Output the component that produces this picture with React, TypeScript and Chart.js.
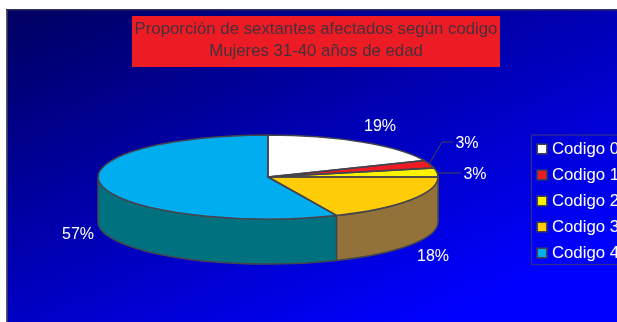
import React, { useEffect, useRef } from "react";
import { Chart, registerables } from "chart.js";

Chart.register(...registerables);

const categories = ["Codigo 0", "Codigo 1", "Codigo 2", "Codigo 3", "Codigo 4"];
const percentages = [18.6, 3, 3.4, 18.4, 56.6];
const topColors = ["#FFFFFF", "#ED1C24", "#FFF200", "#FFCC08", "#00AEEF"];
const wallColors = ["#B0B0B0", "#8A1015", "#8F8800", "#927239", "#00727F"];
const titleLines = ["Proporción de sextantes afectados según codigo", "Mujeres 31-40 años de edad"];

const FONT = "'Liberation Sans', Arial, sans-serif";
const OUTLINE = "#44444F";
const PIE = { cx: 268, cy: 177, rx: 170, ry: 42, depth: 45 };
const LABEL_SPOTS = [
  { x: 380, y: 126.5 },
  { x: 467, y: 143.5 },
  { x: 475, y: 174.5 },
  { x: 433, y: 256.5 },
  { x: 78, y: 234.5 },
];
const LEADERS = [
  null,
  [[429, 164], [442, 142], [453, 142]],
  [[437, 173], [461, 173]],
  null,
  null,
];

const pie3d = {
  id: "pie3d",
  afterLayout(chart: any) {
    const lg = chart.legend;
    const w = lg.right - lg.left;
    const h = lg.bottom - lg.top;
    lg.left = 531.3;
    lg.right = 531.3 + w;
    lg.top = 131.4;
    lg.bottom = 131.4 + h;
    const t = chart.titleBlock;
    t.top = 9;
    t.bottom = 9 + t.height;
  },
  beforeDraw(chart: any) {
    const { ctx, width, height } = chart;
    ctx.save();
    ctx.fillStyle = "#FFFFFF";
    ctx.fillRect(0, 0, width, height);
    const g = ctx.createLinearGradient(6, 9, 189, 428);
    g.addColorStop(0.04, "#000066");
    g.addColorStop(1, "#0000FF");
    ctx.fillStyle = g;
    ctx.fillRect(6, 9, width, height);
    ctx.lineWidth = 1.5;
    ctx.strokeStyle = "#5A5A60";
    ctx.beginPath();
    ctx.moveTo(6.75, height);
    ctx.lineTo(6.75, 9.75);
    ctx.stroke();
    ctx.strokeStyle = "#30305C";
    ctx.beginPath();
    ctx.moveTo(6.75, 9.75);
    ctx.lineTo(width, 9.75);
    ctx.stroke();
    ctx.fillStyle = "#ED1C24";
    ctx.fillRect(132, 16, 368, 51);
    ctx.strokeStyle = "#30308C";
    ctx.lineWidth = 1.2;
    ctx.strokeRect(531.5, 135, 120, 129.5);
    ctx.restore();
  },
  beforeDatasetsDraw(chart: any) {
    const { ctx } = chart;
    const arcs = chart.getDatasetMeta(0).data;
    const { cx, cy, rx, ry, depth } = PIE;
    ctx.save();
    ctx.strokeStyle = OUTLINE;
    ctx.lineWidth = 1.5;
    ctx.lineJoin = "round";
    arcs.forEach((arc: any, i: number) => {
      const a0 = Math.max(arc.startAngle, 0);
      const a1 = Math.min(arc.endAngle, Math.PI);
      if (a1 <= a0) return;
      ctx.beginPath();
      ctx.ellipse(cx, cy, rx, ry, 0, a0, a1);
      ctx.ellipse(cx, cy + depth, rx, ry, 0, a1, a0, true);
      ctx.closePath();
      ctx.fillStyle = wallColors[i];
      ctx.fill();
      ctx.stroke();
    });
    ctx.restore();
    const first = arcs[0];
    const r = first.outerRadius;
    ctx.save();
    ctx.translate(cx, cy);
    ctx.scale(rx / r, ry / r);
    ctx.translate(-first.x, -first.y);
  },
  afterDatasetsDraw(chart: any) {
    const { ctx } = chart;
    ctx.restore();
    const arcs = chart.getDatasetMeta(0).data;
    const { cx, cy, rx, ry } = PIE;
    ctx.save();
    ctx.strokeStyle = OUTLINE;
    ctx.lineWidth = 1.5;
    ctx.lineJoin = "round";
    arcs.forEach((arc: any) => {
      ctx.beginPath();
      ctx.moveTo(cx, cy);
      ctx.ellipse(cx, cy, rx, ry, 0, arc.startAngle, arc.endAngle);
      ctx.closePath();
      ctx.stroke();
    });
    ctx.lineWidth = 1;
    LEADERS.forEach((pts) => {
      if (!pts) return;
      ctx.beginPath();
      pts.forEach(([x, y], k) => (k ? ctx.lineTo(x, y) : ctx.moveTo(x, y)));
      ctx.stroke();
    });
    ctx.fillStyle = "#FFFFFF";
    ctx.font = `16px ${FONT}`;
    ctx.textAlign = "center";
    ctx.textBaseline = "middle";
    percentages.forEach((v, i) => {
      ctx.fillText(`${Math.round(v)}%`, LABEL_SPOTS[i].x, LABEL_SPOTS[i].y);
    });
    ctx.restore();
  },
};

export default function App() {
  const ref = useRef<HTMLCanvasElement>(null);
  useEffect(() => {
    document.body.style.margin = "0";
    document.body.style.overflow = "hidden";
    const chart = new Chart(ref.current as HTMLCanvasElement, {
      type: "pie",
      data: {
        labels: categories,
        datasets: [
          {
            data: percentages,
            backgroundColor: topColors,
            borderWidth: 0,
            clip: false,
          } as any,
        ],
      },
      options: {
        responsive: false,
        animation: false,
        plugins: {
          tooltip: { enabled: false },
          title: {
            display: true,
            text: titleLines,
            color: "#45303C",
            font: { family: FONT, size: 16.8, weight: "normal", lineHeight: 1.31 },
            padding: { top: 9, bottom: 0 },
          },
          legend: {
            position: "right",
            align: "start",
            labels: {
              color: "#FFFFFF",
              font: { family: FONT, size: 16.8 },
              usePointStyle: true,
              boxWidth: 3,
              boxHeight: 9.6,
              padding: 9.2,
              generateLabels() {
                return categories.map((text, i) => ({
                  text,
                  fillStyle: topColors[i],
                  strokeStyle: OUTLINE,
                  lineWidth: 1.5,
                  pointStyle: "rect",
                  rotation: 0,
                  fontColor: "#FFFFFF",
                  hidden: false,
                  index: i,
                }));
              },
            },
          },
        },
      } as any,
      plugins: [pie3d as any],
    });
    return () => chart.destroy();
  }, []);
  return (
    <div style={{ position: "fixed", left: 0, top: 0, width: 617, height: 322, overflow: "hidden", background: "#fff" }}>
      <canvas ref={ref} width={632} height={322} style={{ display: "block" }} />
    </div>
  );
}
